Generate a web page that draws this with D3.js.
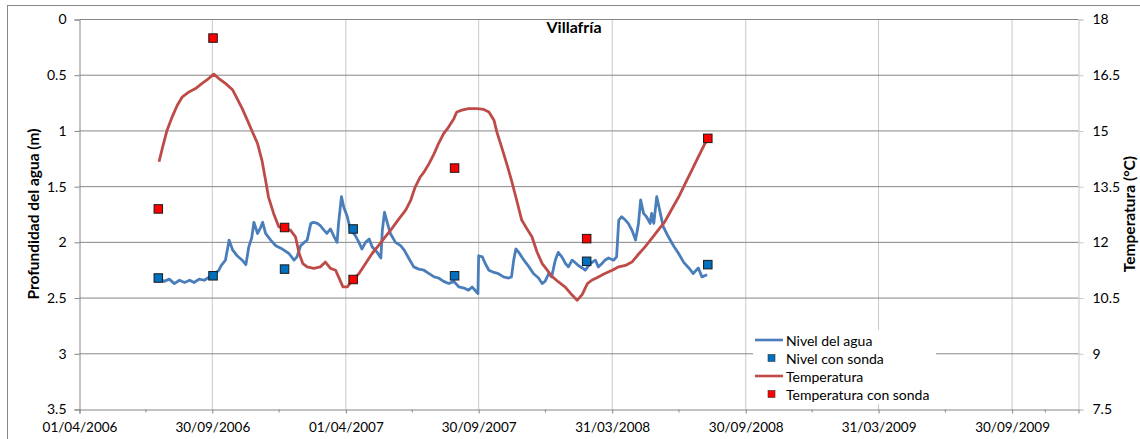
<!DOCTYPE html>
<html>
<head>
<meta charset="utf-8">
<script src="https://cdn.jsdelivr.net/npm/d3@7"></script>
<style>
  body { margin: 0; background: #ffffff; }
  svg text { font-family: Lato, "Open Sans", sans-serif; fill: #000; }
</style>
</head>
<body>
<svg id="chart" width="1140" height="439"></svg>
<script>
// ---- Datos ----
const titulo = "Villafría";
const tituloIzq = "Profundidad del agua (m)";
const tituloDer = "Temperatura (°C)";

// Nivel del agua registrado (profundidad, m)
const nivelAgua = [
  ["2006-07-19",2.32],["2006-07-26",2.35],["2006-08-02",2.33],["2006-08-09",2.37],["2006-08-16",2.34],
  ["2006-08-23",2.36],["2006-08-30",2.34],["2006-09-05",2.36],["2006-09-12",2.33],["2006-09-19",2.34],
  ["2006-09-26",2.31],["2006-10-02",2.29],["2006-10-09",2.25],["2006-10-12",2.21],["2006-10-18",2.16],
  ["2006-10-23",1.98],["2006-10-28",2.07],["2006-11-03",2.12],["2006-11-10",2.16],["2006-11-15",2.20],
  ["2006-11-19",2.04],["2006-11-23",1.96],["2006-11-26",1.82],["2006-12-01",1.92],["2006-12-05",1.87],
  ["2006-12-08",1.82],["2006-12-12",1.92],["2006-12-19",1.98],["2006-12-26",2.03],["2007-01-04",2.06],
  ["2007-01-13",2.10],["2007-01-20",2.16],["2007-01-24",2.13],["2007-01-29",2.03],["2007-02-03",2.00],
  ["2007-02-07",1.98],["2007-02-12",1.83],["2007-02-16",1.82],["2007-02-21",1.83],["2007-02-25",1.85],
  ["2007-03-02",1.89],["2007-03-06",1.92],["2007-03-11",1.88],["2007-03-16",1.95],["2007-03-20",2.00],
  ["2007-03-22",1.83],["2007-03-26",1.59],["2007-03-29",1.68],["2007-04-03",1.77],["2007-04-07",1.88],
  ["2007-04-14",1.94],["2007-04-19",2.00],["2007-04-23",2.06],["2007-04-28",2.00],["2007-05-03",1.97],
  ["2007-05-07",2.04],["2007-05-14",2.09],["2007-05-19",2.14],["2007-05-21",1.89],["2007-05-24",1.73],
  ["2007-05-28",1.83],["2007-06-01",1.92],["2007-06-08",2.00],["2007-06-15",2.03],["2007-06-20",2.07],
  ["2007-06-26",2.14],["2007-07-03",2.22],["2007-07-10",2.24],["2007-07-17",2.25],["2007-07-24",2.28],
  ["2007-07-31",2.31],["2007-08-06",2.32],["2007-08-13",2.35],["2007-08-20",2.37],["2007-08-27",2.35],
  ["2007-09-03",2.40],["2007-09-10",2.41],["2007-09-16",2.43],["2007-09-21",2.40],["2007-09-25",2.43],
  ["2007-09-29",2.46],["2007-09-30",2.12],["2007-10-05",2.13],["2007-10-09",2.19],["2007-10-14",2.25],
  ["2007-10-21",2.27],["2007-10-27",2.28],["2007-11-03",2.31],["2007-11-10",2.32],["2007-11-14",2.31],
  ["2007-11-17",2.16],["2007-11-20",2.06],["2007-11-24",2.09],["2007-12-01",2.16],["2007-12-08",2.22],
  ["2007-12-14",2.28],["2007-12-21",2.32],["2007-12-26",2.37],["2007-12-30",2.35],["2008-01-04",2.28],
  ["2008-01-08",2.31],["2008-01-13",2.16],["2008-01-17",2.09],["2008-01-22",2.13],["2008-01-27",2.19],
  ["2008-01-31",2.22],["2008-02-05",2.16],["2008-02-09",2.18],["2008-02-14",2.21],["2008-02-19",2.23],
  ["2008-02-23",2.25],["2008-03-01",2.19],["2008-03-08",2.16],["2008-03-12",2.22],["2008-03-17",2.19],
  ["2008-03-21",2.16],["2008-03-26",2.14],["2008-04-02",2.16],["2008-04-06",2.13],["2008-04-09",1.80],
  ["2008-04-13",1.77],["2008-04-18",1.80],["2008-04-22",1.83],["2008-04-27",1.89],["2008-05-02",1.98],
  ["2008-05-06",1.83],["2008-05-09",1.62],["2008-05-13",1.74],["2008-05-17",1.77],["2008-05-22",1.83],
  ["2008-05-24",1.74],["2008-05-27",1.83],["2008-05-31",1.59],["2008-06-05",1.74],["2008-06-09",1.86],
  ["2008-06-16",1.95],["2008-06-23",2.03],["2008-06-30",2.10],["2008-07-07",2.18],["2008-07-14",2.23],
  ["2008-07-20",2.28],["2008-07-27",2.23],["2008-08-01",2.31],["2008-08-08",2.29]
];

// Temperatura registrada (°C)
const temperatura = [
  ["2006-07-19",14.17],["2006-07-24",14.57],["2006-07-30",15.02],["2006-08-06",15.38],["2006-08-13",15.69],
  ["2006-08-20",15.92],["2006-08-29",16.05],["2006-09-07",16.14],["2006-09-16",16.28],["2006-09-25",16.41],
  ["2006-10-02",16.53],["2006-10-09",16.41],["2006-10-18",16.28],["2006-10-28",16.10],["2006-11-03",15.87],
  ["2006-11-10",15.60],["2006-11-17",15.29],["2006-11-24",14.97],["2006-12-01",14.66],["2006-12-07",14.21],
  ["2006-12-12",13.67],["2006-12-16",13.22],["2006-12-23",12.78],["2006-12-30",12.42],["2007-01-06",12.37],
  ["2007-01-15",12.33],["2007-01-22",12.15],["2007-01-27",11.70],["2007-02-01",11.43],["2007-02-07",11.34],
  ["2007-02-16",11.30],["2007-02-25",11.34],["2007-03-04",11.47],["2007-03-11",11.30],["2007-03-18",11.25],
  ["2007-03-22",11.07],["2007-03-28",10.80],["2007-04-03",10.80],["2007-04-10",10.98],["2007-04-19",11.16],
  ["2007-04-28",11.43],["2007-05-07",11.70],["2007-05-16",11.92],["2007-05-25",12.15],["2007-06-03",12.37],
  ["2007-06-13",12.64],["2007-06-22",12.87],["2007-06-29",13.14],["2007-07-05",13.49],["2007-07-12",13.76],
  ["2007-07-17",13.89],["2007-07-24",14.12],["2007-07-31",14.39],["2007-08-06",14.66],["2007-08-13",14.93],
  ["2007-08-20",15.11],["2007-08-27",15.33],["2007-08-31",15.51],["2007-09-07",15.56],["2007-09-16",15.60],
  ["2007-09-28",15.60],["2007-10-07",15.58],["2007-10-14",15.51],["2007-10-21",15.29],["2007-10-25",14.97],
  ["2007-11-01",14.53],["2007-11-08",14.08],["2007-11-14",13.67],["2007-11-21",13.14],["2007-11-28",12.60],
  ["2007-12-05",12.37],["2007-12-12",12.15],["2007-12-19",11.74],["2007-12-26",11.43],["2008-01-02",11.25],
  ["2008-01-08",11.09],["2008-01-17",10.94],["2008-01-27",10.79],["2008-02-05",10.58],["2008-02-12",10.44],
  ["2008-02-19",10.60],["2008-02-26",10.89],["2008-03-03",10.98],["2008-03-12",11.07],["2008-03-21",11.16],
  ["2008-03-31",11.25],["2008-04-09",11.34],["2008-04-18",11.38],["2008-04-27",11.47],["2008-05-06",11.68],
  ["2008-05-15",11.88],["2008-05-24",12.10],["2008-06-02",12.33],["2008-06-11",12.55],["2008-06-20",12.87],
  ["2008-06-30",13.22],["2008-07-09",13.58],["2008-07-18",13.94],["2008-07-27",14.30],["2008-08-05",14.66],
  ["2008-08-09",14.75]
];

// Medidas manuales con sonda
const sondaFechas      = ["2006-07-18","2006-10-01","2007-01-07","2007-04-11","2007-08-28","2008-02-25","2008-08-09"];
const nivelSonda       = [2.32, 2.30, 2.24, 1.88, 2.30, 2.17, 2.20];
const temperaturaSonda = [12.9, 17.5, 12.4, 11.0, 14.0, 12.1, 14.8];

// Ejes
const fechasEje = ["01/04/2006","30/09/2006","01/04/2007","30/09/2007","31/03/2008","30/09/2008","31/03/2009","30/09/2009"];
const fechaFinEje = "30/12/2009";
const profundidadTicks = [0, 0.5, 1, 1.5, 2, 2.5, 3, 3.5];
const temperaturaTicks = [7.5, 9, 10.5, 12, 13.5, 15, 16.5, 18];

const leyenda = ["Nivel del agua", "Nivel con sonda", "Temperatura", "Temperatura con sonda"];

// ---- Dibujo ----
const svg = d3.select("#chart");
const parseISO = d3.utcParse("%Y-%m-%d");
const parseEje = d3.utcParse("%d/%m/%Y");

const plot = { left: 79.5, right: 1078.5, top: 19.5, bottom: 409.5 };

const ticksX = fechasEje.map(parseEje);
const x = d3.scaleUtc()
  .domain([ticksX[0], parseEje(fechaFinEje)])
  .range([plot.left, plot.right]);
const yProf = d3.scaleLinear().domain([0, 3.5]).range([plot.top, plot.bottom]);
const yTemp = d3.scaleLinear().domain([7.5, 18]).range([plot.bottom, plot.top]);

const colorNivel = "#4a7ebb";
const colorTemp = "#be4b48";
const colorSondaNivel = "#0070c0";
const colorSondaTemp = "#ff0000";
const colorEje = "#868686";
const colorRejillaV = "#c9c9c9";

// marco exterior
svg.append("rect")
  .attr("x", 7.5).attr("y", 5.5).attr("width", 1200).attr("height", 500)
  .attr("fill", "none").attr("stroke", colorEje).attr("stroke-width", 1);

// rejilla vertical (fechas principales)
svg.append("g").selectAll("line")
  .data(ticksX.slice(1))
  .join("line")
  .attr("x1", d => x(d)).attr("x2", d => x(d))
  .attr("y1", plot.top).attr("y2", plot.bottom)
  .attr("stroke", colorRejillaV).attr("stroke-width", 1);

// rejilla horizontal (profundidad)
svg.append("g").selectAll("line")
  .data(profundidadTicks.slice(0, -1))
  .join("line")
  .attr("x1", plot.left).attr("x2", plot.right)
  .attr("y1", d => yProf(d)).attr("y2", d => yProf(d))
  .attr("stroke", colorEje).attr("stroke-width", 1);

// eje izquierdo
const ejeIzq = svg.append("g")
  .attr("transform", `translate(${plot.left},0)`)
  .call(d3.axisLeft(yProf).tickValues(profundidadTicks).tickFormat(d3.format("")).tickSize(5).tickPadding(8));
ejeIzq.select(".domain").attr("stroke", colorEje);
ejeIzq.selectAll(".tick line").attr("stroke", colorEje);
ejeIzq.selectAll("text").attr("font-size", 14);

// eje derecho
const ejeDer = svg.append("g")
  .attr("transform", `translate(${plot.right},0)`)
  .call(d3.axisRight(yTemp).tickValues(temperaturaTicks).tickFormat(d3.format("")).tickSize(5).tickPadding(9));
ejeDer.select(".domain").attr("stroke", colorRejillaV);
ejeDer.selectAll(".tick line").attr("stroke", colorRejillaV);
ejeDer.selectAll("text").attr("font-size", 14);

// eje de fechas: marcas principales y secundarias
const marcasMenores = ticksX.map((d, i) => {
  const sig = i < ticksX.length - 1 ? ticksX[i + 1] : x.domain()[1];
  return new Date((d.getTime() + sig.getTime()) / 2);
});
const ejeX = svg.append("g")
  .attr("transform", `translate(0,${plot.bottom})`)
  .call(d3.axisBottom(x).tickValues(ticksX).tickFormat(d3.utcFormat("%d/%m/%Y")).tickSize(4).tickPadding(9));
ejeX.select(".domain").attr("stroke", colorEje);
ejeX.selectAll(".tick line").attr("stroke", colorEje);
ejeX.selectAll("text").attr("font-size", 13.5);
svg.append("g").selectAll("line")
  .data(marcasMenores)
  .join("line")
  .attr("x1", d => x(d)).attr("x2", d => x(d))
  .attr("y1", plot.bottom).attr("y2", plot.bottom + 3)
  .attr("stroke", colorEje);
svg.selectAll(".domain").attr("stroke-width", 1);

// series continuas
const lineaNivel = d3.line().x(d => x(parseISO(d[0]))).y(d => yProf(d[1]));
const lineaTemp = d3.line().x(d => x(parseISO(d[0]))).y(d => yTemp(d[1]));

svg.append("path").datum(nivelAgua)
  .attr("d", lineaNivel).attr("fill", "none")
  .attr("stroke", colorNivel).attr("stroke-width", 2.8).attr("stroke-linejoin", "round");
svg.append("path").datum(temperatura)
  .attr("d", lineaTemp).attr("fill", "none")
  .attr("stroke", colorTemp).attr("stroke-width", 2.8).attr("stroke-linejoin", "round");

// medidas con sonda (cuadrados)
const lado = 8.5;
svg.append("g").selectAll("rect")
  .data(sondaFechas.map((f, i) => [f, nivelSonda[i]]))
  .join("rect")
  .attr("x", d => x(parseISO(d[0])) - lado / 2).attr("y", d => yProf(d[1]) - lado / 2)
  .attr("width", lado).attr("height", lado)
  .attr("fill", colorSondaNivel).attr("stroke", "#1a1a1a").attr("stroke-width", 1);
svg.append("g").selectAll("rect")
  .data(sondaFechas.map((f, i) => [f, temperaturaSonda[i]]))
  .join("rect")
  .attr("x", d => x(parseISO(d[0])) - lado / 2).attr("y", d => yTemp(d[1]) - lado / 2)
  .attr("width", lado).attr("height", lado)
  .attr("fill", colorSondaTemp).attr("stroke", "#1a1a1a").attr("stroke-width", 1);

// títulos
svg.append("text").text(titulo)
  .attr("x", 574).attr("y", 33).attr("text-anchor", "middle")
  .attr("font-size", 16).attr("font-weight", "bold");
svg.append("text").text(tituloIzq)
  .attr("transform", "translate(33,214) rotate(-90)")
  .attr("text-anchor", "middle").attr("dominant-baseline", "central")
  .attr("font-size", 15.5).attr("font-weight", "bold");
svg.append("text").text(tituloDer)
  .attr("transform", "translate(1129,214) rotate(-90)")
  .attr("text-anchor", "middle").attr("dominant-baseline", "central")
  .attr("font-size", 15.5).attr("font-weight", "bold");

// leyenda
const ley = svg.append("g");
ley.append("rect").attr("x", 753).attr("y", 330).attr("width", 183).attr("height", 74).attr("fill", "#ffffff");
const tipos = [
  { tipo: "linea", color: colorNivel },
  { tipo: "cuadro", color: colorSondaNivel },
  { tipo: "linea", color: colorTemp },
  { tipo: "cuadro", color: colorSondaTemp }
];
leyenda.forEach((nombre, i) => {
  const yy = 340 + i * 18;
  const t = tipos[i];
  if (t.tipo === "linea") {
    ley.append("line").attr("x1", 755).attr("x2", 783).attr("y1", yy).attr("y2", yy)
      .attr("stroke", t.color).attr("stroke-width", 2.6);
  } else {
    ley.append("rect").attr("x", 768).attr("y", yy - 3.5).attr("width", 7).attr("height", 7)
      .attr("fill", t.color).attr("stroke", "#333").attr("stroke-width", 0.6);
  }
  ley.append("text").text(nombre)
    .attr("x", 786).attr("y", yy).attr("dominant-baseline", "central")
    .attr("font-size", 14);
});
</script>
</body>
</html>
